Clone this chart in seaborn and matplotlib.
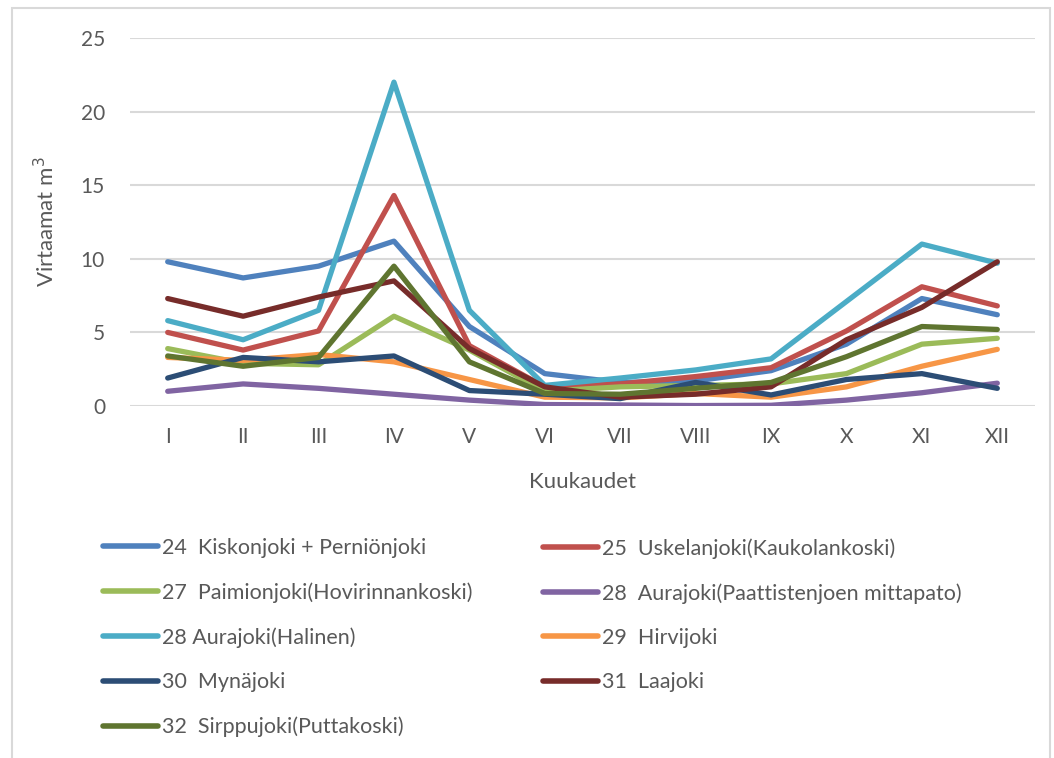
import pandas as pd
import matplotlib.pyplot as plt
import seaborn as sns
from matplotlib.lines import Line2D
from matplotlib.patches import Rectangle

# Data
months = ["I", "II", "III", "IV", "V", "VI", "VII", "VIII", "IX", "X", "XI", "XII"]

rivers = [
    "24  Kiskonjoki + Perniönjoki",
    "25  Uskelanjoki(Kaukolankoski)",
    "27  Paimionjoki(Hovirinnankoski)",
    "28  Aurajoki(Paattistenjoen mittapato)",
    "28 Aurajoki(Halinen)",
    "29  Hirvijoki",
    "30  Mynäjoki",
    "31  Laajoki",
    "32  Sirppujoki(Puttakoski)",
]

kiskonjoki = [9.8, 8.7, 9.5, 11.2, 5.4, 2.2, 1.6, 1.7, 2.4, 4.2, 7.3, 6.2]
uskelanjoki = [5.0, 3.8, 5.1, 14.3, 4.1, 1.3, 1.5, 2.0, 2.6, 5.1, 8.1, 6.8]
paimionjoki = [3.9, 2.9, 2.8, 6.1, 3.8, 1.0, 1.3, 1.4, 1.5, 2.2, 4.2, 4.6]
aurajoki_paattinen = [1.0, 1.5, 1.2, 0.8, 0.4, 0.1, 0.07, 0.03, 0.05, 0.4, 0.9, 1.55]
aurajoki_halinen = [5.8, 4.5, 6.5, 22.0, 6.5, 1.4, 1.9, 2.45, 3.2, 7.1, 11.0, 9.7]
hirvijoki = [3.3, 3.1, 3.5, 3.0, 1.8, 0.6, 0.55, 0.85, 0.6, 1.3, 2.7, 3.85]
mynajoki = [1.9, 3.3, 3.0, 3.4, 1.05, 0.8, 0.5, 1.6, 0.75, 1.8, 2.2, 1.2]
laajoki = [7.3, 6.1, 7.4, 8.5, 3.9, 1.3, 0.6, 0.8, 1.3, 4.5, 6.7, 9.8]
sirppujoki = [3.4, 2.7, 3.3, 9.5, 3.0, 0.85, 0.8, 1.2, 1.6, 3.35, 5.4, 5.2]

series = [kiskonjoki, uskelanjoki, paimionjoki, aurajoki_paattinen, aurajoki_halinen,
          hirvijoki, mynajoki, laajoki, sirppujoki]

colors = ["#4F81BD", "#C0504D", "#9BBB59", "#8064A2", "#4BACC6",
          "#F79646", "#2C4D75", "#772C2A", "#5F7530"]

rows = []
for name, vals in zip(rivers, series):
    for i, v in enumerate(vals):
        rows.append({"month": i, "value": v, "river": name})
df = pd.DataFrame(rows)

sns.set_style("white")
plt.rcParams["font.family"] = ["Lato", "DejaVu Sans"]
text_color = "#595959"
grid_color = "#D9D9D9"

fig = plt.figure(figsize=(10.54, 7.58), dpi=100)
ax = fig.add_axes([130 / 1054, 1 - 406 / 758, (1035 - 130) / 1054, (406 - 38) / 758])

sns.lineplot(data=df, x="month", y="value", hue="river", hue_order=rivers,
             palette=dict(zip(rivers, colors)), linewidth=3.8, legend=False,
             sort=False, ax=ax, solid_capstyle="round", solid_joinstyle="round")

ax.set_xlim(-0.5, 11.5)
ax.set_ylim(0, 25)
ax.set_yticks(range(0, 26, 5))
ax.set_xticks(range(12))
ax.set_xticklabels(months)
for s in ax.spines.values():
    s.set_visible(False)
ax.yaxis.grid(True, color=grid_color, linewidth=1.5)
ax.set_axisbelow(True)
ax.tick_params(axis="both", length=0, labelsize=15, labelcolor=text_color)
ax.tick_params(axis="y", pad=18)
ax.tick_params(axis="x", pad=15)
ax.set_xlabel("Kuukaudet", fontsize=16, color=text_color, labelpad=18)
ax.set_ylabel("Virtaamat m$^3$", fontsize=16, color=text_color, labelpad=16)

# chart border
fig.patches.append(Rectangle((12 / 1054, -0.1), (1050 - 12) / 1054, 1.1 - 8 / 758,
                             transform=fig.transFigure, fill=False,
                             edgecolor=grid_color, linewidth=1.5))

# legend in two columns, Excel row order
handles = [Line2D([0], [0], color=c, linewidth=4, solid_capstyle="round") for c in colors]
col1 = [0, 2, 4, 6, 8]
col2 = [1, 3, 5, 7]
kw = dict(frameon=False, fontsize=15.5, handlelength=2.55, handletextpad=0.2,
          labelspacing=1.13, borderpad=0, borderaxespad=0, loc="upper left",
          labelcolor=text_color)
leg1 = fig.legend([handles[i] for i in col1], [rivers[i] for i in col1],
                  bbox_to_anchor=(103 / 1054, 1 - 538 / 758), **kw)
fig.legend([handles[i] for i in col2], [rivers[i] for i in col2],
           bbox_to_anchor=(543 / 1054, 1 - 538 / 758), **kw)

fig.savefig("out.png", dpi=100)
